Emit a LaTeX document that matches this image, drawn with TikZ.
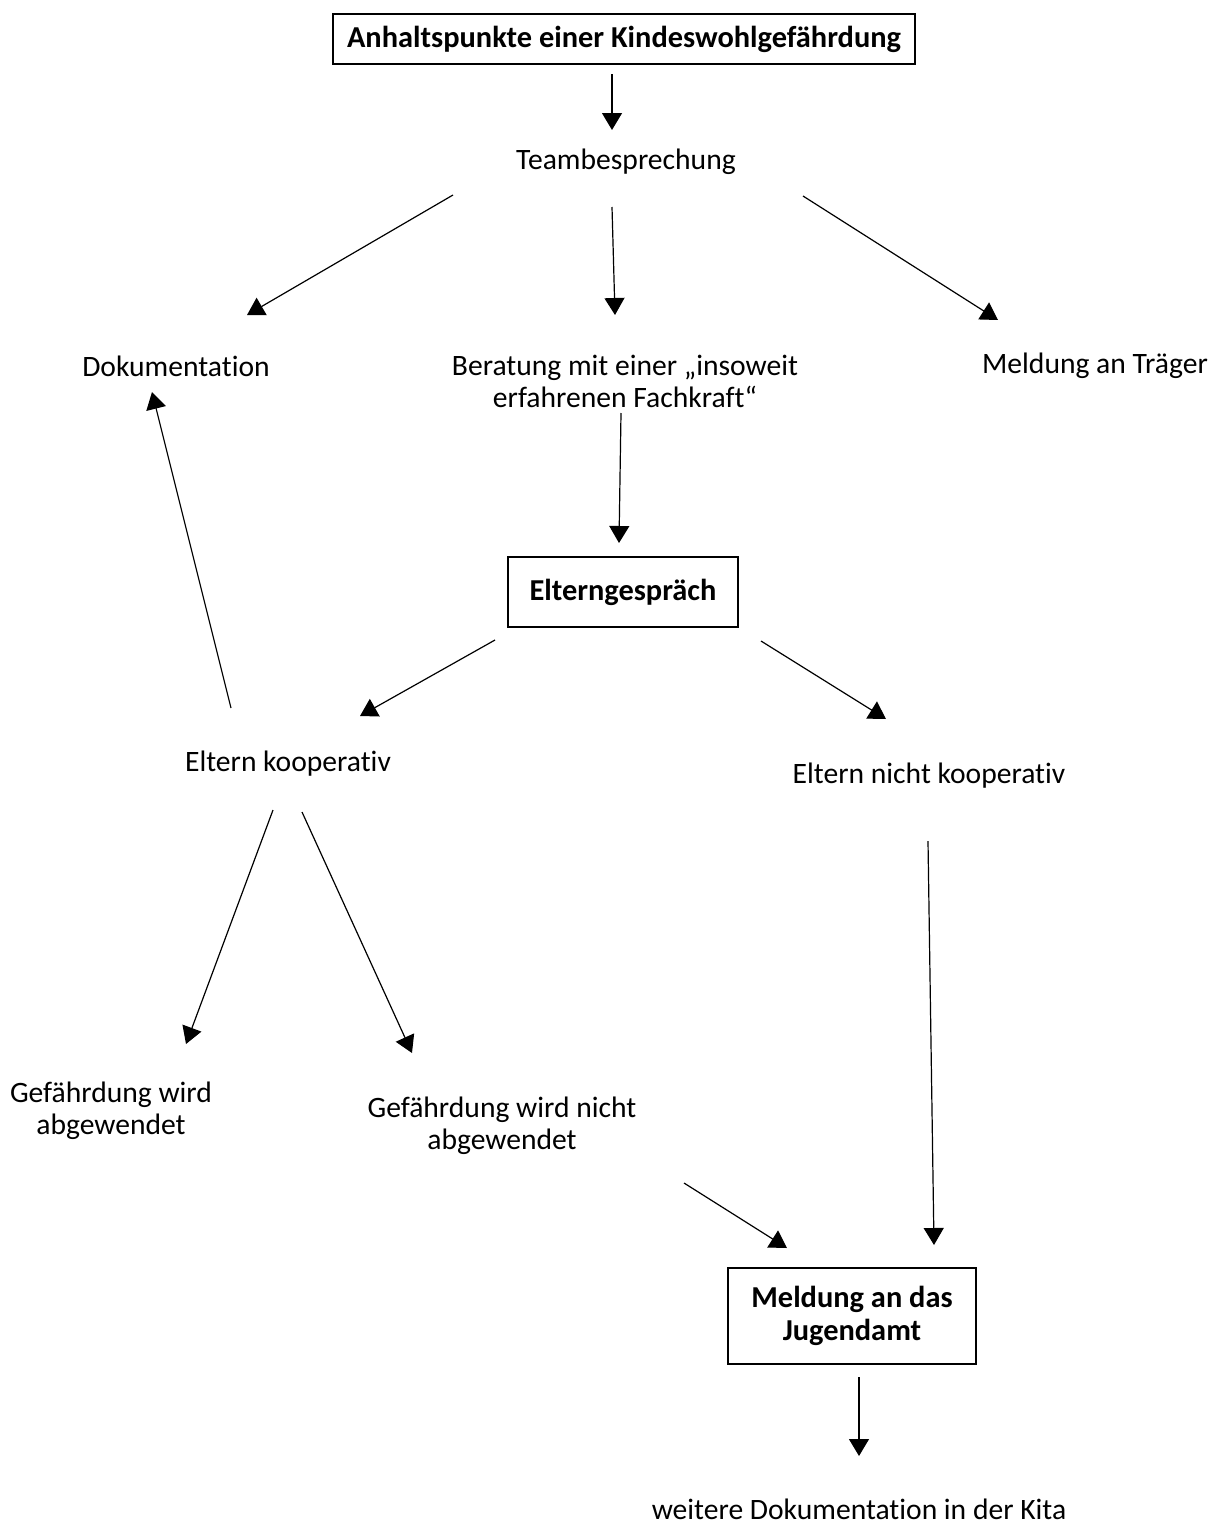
\documentclass[tikz,border=0pt]{standalone}
\usepackage{fontspec}
\setmainfont{Carlito}[Ligatures=NoCommon]
\usetikzlibrary{arrows.meta, calc, positioning}

\begin{document}
\begin{tikzpicture}[x=0.5pt, y=-0.5pt,
      font=\fontsize{14.8}{16}\selectfont,
      box/.style={draw, line width=0.6pt, align=center,
            font=\fontsize{15.2}{16.5}\selectfont\bfseries},
      txt/.style={align=center, inner sep=0pt},
      arr/.style={-{Triangle[length=8.5pt, width=10pt]}, line width=0.6pt}]

  \useasboundingbox (0,0) rectangle (1220,1526);

  % Kaestchen und Texte
  \node[box, minimum width=291pt, minimum height=25pt] (start) at (624,39)
    {Anhaltspunkte einer Kindeswohlgefährdung};
  \node[txt] (team) at (626,162) {Teambesprechung};
  \node[txt] (doku) at (176,366) {Dokumentation};
  \node[txt] (berat) at (625,381) {Beratung mit einer „insoweit\\erfahrenen Fachkraft“};
  \node[txt] (traeger) at (1095,366) {Meldung an Träger};
  \node[box, minimum width=115pt, minimum height=35pt] (eltern) at (623,592)
    {Elterngespräch};
  \node[txt] (koop) at (288,764) {Eltern kooperativ};
  \node[txt] (nkoop) at (929,776) {Eltern nicht kooperativ};
  \node[txt] (abgew) at (111,1111) {Gefährdung wird\\abgewendet};
  \node[txt] (nabgew) at (502,1126) {Gefährdung wird nicht\\abgewendet};
  \node[box, minimum width=124pt, minimum height=48pt] (jugend) at (852,1316)
    {Meldung an das\\Jugendamt};
  \node[txt] (kita) at (859,1509) {weitere Dokumentation in der Kita};

  % Pfeile
  \draw[arr] ($(start)+(-12,35)$) -- ($(team)+(-14,-32)$);
  \draw[arr] ($(team)+(-173,33)$) -- ($(doku)+(71,-51)$);
  \draw[arr] ($(team)+(-14,45)$) -- ($(berat)+(-10,-66)$);
  \draw[arr] ($(team)+(177,34)$) -- ($(traeger)+(-97,-46)$);
  \draw[arr] ($(berat)+(-4,32)$) -- ($(eltern)+(-4,-49)$);
  \draw[arr] ($(eltern)+(-128,48)$) -- ($(koop)+(72,-48)$);
  \draw[arr] ($(eltern)+(138,49)$) -- ($(nkoop)+(-43,-57)$);
  \draw[arr] ($(koop)+(-57,-56)$) -- ($(doku)+(-24,26)$);
  \draw[arr] ($(koop)+(-15,46)$) -- ($(abgew)+(75,-67)$);
  \draw[arr] ($(koop)+(14,48)$) -- ($(nabgew)+(-90,-73)$);
  \draw[arr] ($(nkoop)+(-1,65)$) -- ($(jugend)+(82,-71)$);
  \draw[arr] ($(nabgew)+(182,57)$) -- ($(jugend)+(-65,-68)$);
  \draw[arr] ($(jugend)+(7,61)$) -- ($(kita)+(0,-53)$);
\end{tikzpicture}
\end{document}
